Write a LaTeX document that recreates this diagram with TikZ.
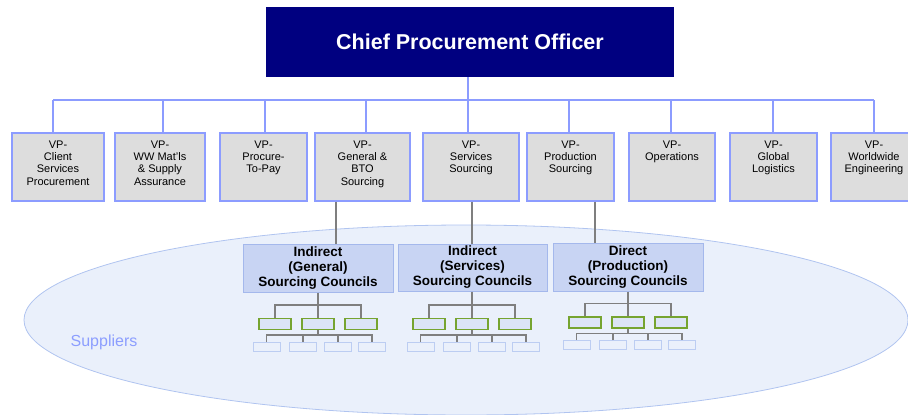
\documentclass[tikz,border=0pt]{standalone}
\usepackage{fontspec}
\setmainfont{Liberation Sans}
\definecolor{navy}{HTML}{000080}
\definecolor{vpfill}{HTML}{DDDDDD}
\definecolor{vpline}{HTML}{8C9CFF}
\definecolor{ellfill}{HTML}{EAF0FB}
\definecolor{ellline}{HTML}{B0C4F0}
\definecolor{cfill}{HTML}{C8D4F3}
\definecolor{cline}{HTML}{A4B8EC}
\definecolor{gline}{HTML}{7F7F7F}
\definecolor{grn}{HTML}{76A430}
\definecolor{gfill}{HTML}{DCE4F7}
\definecolor{sline}{HTML}{BCCDF2}
\definecolor{suptext}{HTML}{8C9EFF}
\newcommand{\mysubtree}[4]{%
  \coordinate (#1h) at ({#2},{305+(#3)});
  \coordinate (#1k) at ({#2},{335+(#3)});
  \node[gbox] (#1g1) at ({#2-43},{324+(#3)}) {};
  \node[gbox] (#1g2) at ({#2},{324+(#3)}) {};
  \node[gbox] (#1g3) at ({#2+43},{324+(#3)}) {};
  \node[sbox] (#1s1) at ({#2-51.5},{346.5+(#3)}) {};
  \node[sbox] (#1s2) at ({#2-15},{346.5+(#3)}) {};
  \node[sbox] (#1s3) at ({#2+20},{346.5+(#3)}) {};
  \node[sbox] (#1s4) at ({#2+54},{346.5+(#3)}) {};
  \draw[tree] (#1g2.north |- #4.south) -- (#1g2.north);
  \draw[tree] (#1g1.north) -- (#1g1.north |- #1h) -- (#1g3.north |- #1h) -- (#1g3.north);
  \draw[tree] (#1g2.south) -- (#1g2.south |- #1k);
  \draw[tree] (#1s1.north) -- (#1s1.north |- #1k) -- (#1s4.north |- #1k) -- (#1s4.north);
  \draw[tree] (#1s2.north) -- (#1s2.north |- #1k);
  \draw[tree] (#1s3.north) -- (#1s3.north |- #1k);
}
\begin{document}
\begin{tikzpicture}[x=1pt,y=-1pt,
  cpo/.style={fill=navy, draw=none, minimum width=408pt, minimum height=70pt, inner sep=0pt, text=white, font=\fontsize{21.5}{24}\selectfont\bfseries},
  vpbox/.style={draw=vpline, line width=1.3pt, fill=vpfill, minimum height=68pt, inner sep=0pt},
  vptext/.style={align=center, font=\fontsize{11}{12.3}\selectfont, inner sep=0pt, anchor=north},
  bus/.style={draw=vpline, line width=1.3pt},
  council/.style={draw=cline, line width=1pt, fill=cfill, minimum width=150pt, minimum height=48pt, inner sep=0pt, align=center, font=\fontsize{13.5}{15}\selectfont\bfseries},
  link/.style={draw=gline, line width=1.1pt},
  tree/.style={draw=gline, line width=1.2pt},
  gbox/.style={draw=grn, line width=1.4pt, fill=gfill, minimum width=32pt, minimum height=11pt, inner sep=0pt},
  sbox/.style={draw=sline, line width=1pt, fill=ellfill, minimum width=27pt, minimum height=9pt, inner sep=0pt},
]
\useasboundingbox (0,0) rectangle (908,415);
% supplier ellipse
\filldraw[fill=ellfill, draw=ellline, line width=0.8pt] (466,320) ellipse [x radius=442pt, y radius=95pt];
\node[text=suptext, font=\fontsize{16}{18}\selectfont, inner sep=0pt] (sup) at (104,342) {Suppliers};
% CPO
\node[cpo] (cpo) at (470,42) {Chief Procurement Officer};
% VP boxes
\node[vpbox, minimum width=92pt] (v1) at (58,167) {};
\node[vpbox, minimum width=90pt] (v2) at (160,167) {};
\node[vpbox, minimum width=87pt] (v3) at (263.5,167) {};
\node[vpbox, minimum width=95pt] (v4) at (362.5,167) {};
\node[vpbox, minimum width=96pt] (v5) at (471,167) {};
\node[vpbox, minimum width=87pt] (v6) at (570.5,167) {};
\node[vpbox, minimum width=86pt] (v7) at (672,167) {};
\node[vpbox, minimum width=87pt] (v8) at (773.5,167) {};
\node[vpbox, minimum width=86pt] (v9) at (874,167) {};
\node[vptext] (t1) at (58,140.5) {VP-\\Client\\Services\\Procurement};
\node[vptext] (t2) at (160,140.5) {VP-\\WW Mat'ls\\\& Supply\\Assurance};
\node[vptext] (t3) at (263.5,140.5) {VP-\\Procure-\\To-Pay};
\node[vptext] (t4) at (362.5,140.5) {VP-\\General \&\\BTO\\Sourcing};
\node[vptext] (t5) at (471,140.5) {VP-\\Services\\Sourcing};
\node[vptext] (t6) at (570.5,140.5) {VP-\\Production\\Sourcing};
\node[vptext] (t7) at (672,140.5) {VP-\\Operations};
\node[vptext] (t8) at (773.5,140.5) {VP-\\Global\\Logistics};
\node[vptext] (t9) at (874,140.5) {VP-\\Worldwide\\Engineering};
% bus
\coordinate (d1) at (53,100);
\coordinate (d2) at (163,100);
\coordinate (d3) at (265,100);
\coordinate (d4) at (366,100);
\coordinate (d5) at (468,100);
\coordinate (d6) at (569,100);
\coordinate (d7) at (671,100);
\coordinate (d8) at (773,100);
\coordinate (d9) at (874,100);
\draw[bus] (d5 |- cpo.south) -- (d5);
\draw[bus] (d1) -- (d9);
\foreach \i in {1,...,9} { \draw[bus] (d\i) -- (d\i |- v\i.north); }
% councils
\node[council] (ca) at (318,268) {Indirect\\(General)\\Sourcing Councils};
\node[council, minimum width=149pt, minimum height=47pt] (cb) at (472.5,267.5) {Indirect\\(Services)\\Sourcing Councils};
\node[council] (cc) at (628,267) {Direct\\(Production)\\Sourcing Councils};
\coordinate (k1) at (336,0);
\coordinate (k2) at (472,0);
\coordinate (k3) at (595,0);
\draw[link] (k1 |- v4.south) -- (k1 |- ca.north);
\draw[link] (k2 |- v5.south) -- (k2 |- cb.north);
\draw[link] (k3 |- v6.south) -- (k3 |- cc.north);
% subtrees
\mysubtree{a}{318}{0}{ca}
\mysubtree{b}{472}{0}{cb}
\mysubtree{c}{628}{-1.5}{cc}
\end{tikzpicture}
\end{document}
